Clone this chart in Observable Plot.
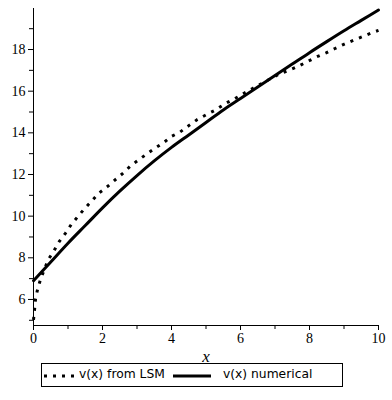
<!DOCTYPE html>
<html>
<head>
<meta charset="utf-8">
<script src="https://cdn.jsdelivr.net/npm/d3@7"></script>
<script src="https://cdn.jsdelivr.net/npm/@observablehq/plot@0.6"></script>
<style>
  html, body { margin: 0; padding: 0; background: #fff; }
  #wrap { position: relative; width: 392px; height: 400px; background: #fff; }
  #legend { position: absolute; left: 41px; top: 363px; width: 300px; height: 22px;
            border: 1px solid #000; font-family: "DejaVu Sans", sans-serif; font-size: 12.3px; color: #000; }
  #legend svg { position: absolute; left: 0; top: 0; }
  #legend span { position: absolute; top: 3px; white-space: nowrap; }
</style>
</head>
<body>
<div id="wrap"></div>
<script>
// ---- data ----
const lsmX = [0, 0.03, 0.06, 0.12, 0.21, 0.43, 0.60, 0.75, 0.93, 1.09, 1.29, 1.48, 1.69, 1.90, 2.13, 2.35, 2.58, 2.80, 3.03, 3.27, 3.53, 3.77, 4.01, 4.25, 4.52, 4.75, 5.03, 5.30, 5.56, 5.82, 6.09, 6.35, 6.62, 6.88, 7.15, 7.42, 7.68, 7.95, 8.21, 8.48, 8.74, 9.01, 9.28, 9.57, 9.83, 10];
const lsmY = [5.02, 5.50, 6.03, 6.50, 7.00, 7.92, 8.36, 8.79, 9.19, 9.59, 9.99, 10.36, 10.73, 11.11, 11.40, 11.72, 12.04, 12.39, 12.68, 12.97, 13.27, 13.53, 13.84, 14.04, 14.37, 14.64, 14.89, 15.12, 15.41, 15.63, 15.89, 16.13, 16.37, 16.61, 16.85, 17.01, 17.20, 17.43, 17.65, 17.84, 18.05, 18.26, 18.45, 18.64, 18.82, 18.92];
const numX = [0, 0.5, 1, 1.5, 2, 2.5, 3, 3.5, 4, 4.5, 5, 5.5, 6, 6.5, 7, 7.5, 8, 8.5, 9, 9.5, 10];
const numY = [6.9, 7.8, 8.7, 9.55, 10.4, 11.2, 11.95, 12.65, 13.3, 13.9, 14.5, 15.1, 15.65, 16.2, 16.75, 17.3, 17.85, 18.38, 18.9, 19.4, 19.9];
const xMajor = [0, 2, 4, 6, 8, 10];
const xMinor = [1, 3, 5, 7, 9];
const yMajor = [6, 8, 10, 12, 14, 16, 18];
const yMinor = [5, 7, 9, 11, 13, 15, 17, 19];
const xDomain = [0, 10];
const yDomain = [4.75, 19.97];
const xLabel = "x";
const seriesNames = ["v(x) from LSM", "v(x) numerical"];

const lsm = lsmX.map((x, i) => ({x, y: lsmY[i]}));
const num = numX.map((x, i) => ({x, y: numY[i]}));

const serif = "'Liberation Serif', 'Times New Roman', serif";

const chart = Plot.plot({
  width: 392,
  height: 362,
  marginLeft: 33,
  marginRight: 14,
  marginTop: 8,
  marginBottom: 37,
  style: {color: "#000", background: "#fff", overflow: "visible", fontFamily: serif, fontSize: "14px"},
  x: {domain: xDomain},
  y: {domain: yDomain},
  marks: [
    Plot.axisX(xMajor, {tickSize: 5, tickPadding: 3, label: null, fontSize: 14}),
    Plot.axisX(xMinor, {tickSize: 4, tickFormat: () => "", label: null}),
    Plot.axisY(yMajor, {tickSize: 5, tickPadding: 3, label: null, fontSize: 14}),
    Plot.axisY(yMinor, {tickSize: 4, tickFormat: () => "", label: null}),
    Plot.text([xLabel], {frameAnchor: "bottom", dy: 31, text: d => d, lineAnchor: "middle",
      fontSize: 17, fontStyle: "italic"}),
    Plot.ruleX([xDomain[0]], {stroke: "#000", strokeWidth: 1}),
    Plot.ruleY([yDomain[0]], {stroke: "#000", strokeWidth: 1}),
    Plot.line(num, {x: "x", y: "y", stroke: "#000", strokeWidth: 3, curve: "monotone-x"}),
    Plot.line(lsm, {x: "x", y: "y", stroke: "#000", strokeWidth: 3, strokeDasharray: "3,6.2", strokeLinecap: "butt"})
  ]
});
chart.querySelectorAll("g, text, tspan").forEach(el => {
  el.style.setProperty("font-family", serif, "important");
});
const wrap = document.getElementById("wrap");
wrap.appendChild(chart);

// legend below the chart
const legend = document.createElement("div");
legend.id = "legend";
legend.innerHTML = `
<svg width="300" height="22">
  <line x1="2" x2="34" y1="12" y2="12" stroke="#000" stroke-width="3" stroke-dasharray="3,6"/>
  <line x1="131" x2="169" y1="12" y2="12" stroke="#000" stroke-width="3"/>
</svg>
<span style="left:37px">${seriesNames[0]}</span>
<span style="left:181px">${seriesNames[1]}</span>`;
wrap.appendChild(legend);
</script>
</body>
</html>
